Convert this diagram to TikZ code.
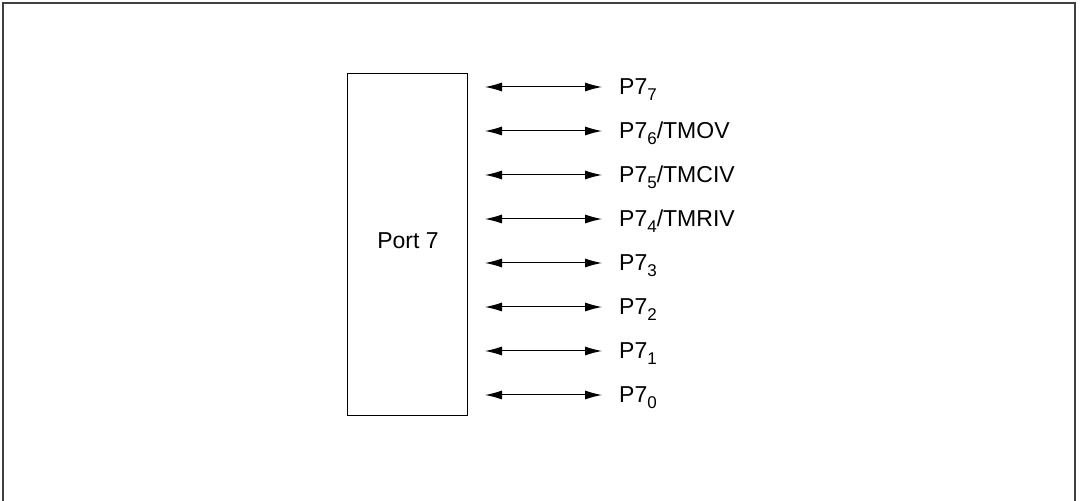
\documentclass[tikz,border=0pt]{standalone}
\usepackage{fontspec}
\setmainfont{Liberation Sans}
\usetikzlibrary{arrows.meta}
\newcommand{\pinsub}[1]{\raisebox{-6pt}{\fontsize{17}{19}\selectfont #1}}
\begin{document}
\begin{tikzpicture}[x=1pt,y=1pt,
  frame/.style={draw=black!75,line width=1.6pt},
  portbox/.style={draw=black,line width=0.9pt},
  bidir/.style={line width=1pt,{Latex[length=17pt,width=9pt]}-{Latex[length=17pt,width=9pt]}},
  pinlabel/.style={anchor=base west,inner sep=0pt,font=\fontsize{23}{27}\selectfont},
  boxlabel/.style={font=\fontsize{23}{27}\selectfont}]
\useasboundingbox (0,0) rectangle (1080,501);
\draw[frame] (3,-5) -- (3,498) -- (1075,498) -- (1075,-5);
\draw[portbox] (347,86) rectangle (467,428);
\node[boxlabel] (port) at (408,260) {Port 7};
\foreach \i/\lab in {0/{P7\pinsub{7}},1/{P7\pinsub{6}/TMOV},2/{P7\pinsub{5}/TMCIV},3/{P7\pinsub{4}/TMRIV},4/{P7\pinsub{3}},5/{P7\pinsub{2}},6/{P7\pinsub{1}},7/{P7\pinsub{0}}}{
  \coordinate (a\i) at (485,{414-44*\i});
  \coordinate (b\i) at (602,{414-44*\i});
  \draw[bidir] (a\i) -- (b\i);
  \node[pinlabel] (l\i) at (619,{406-44*\i}) {\lab};
}
\end{tikzpicture}
\end{document}
